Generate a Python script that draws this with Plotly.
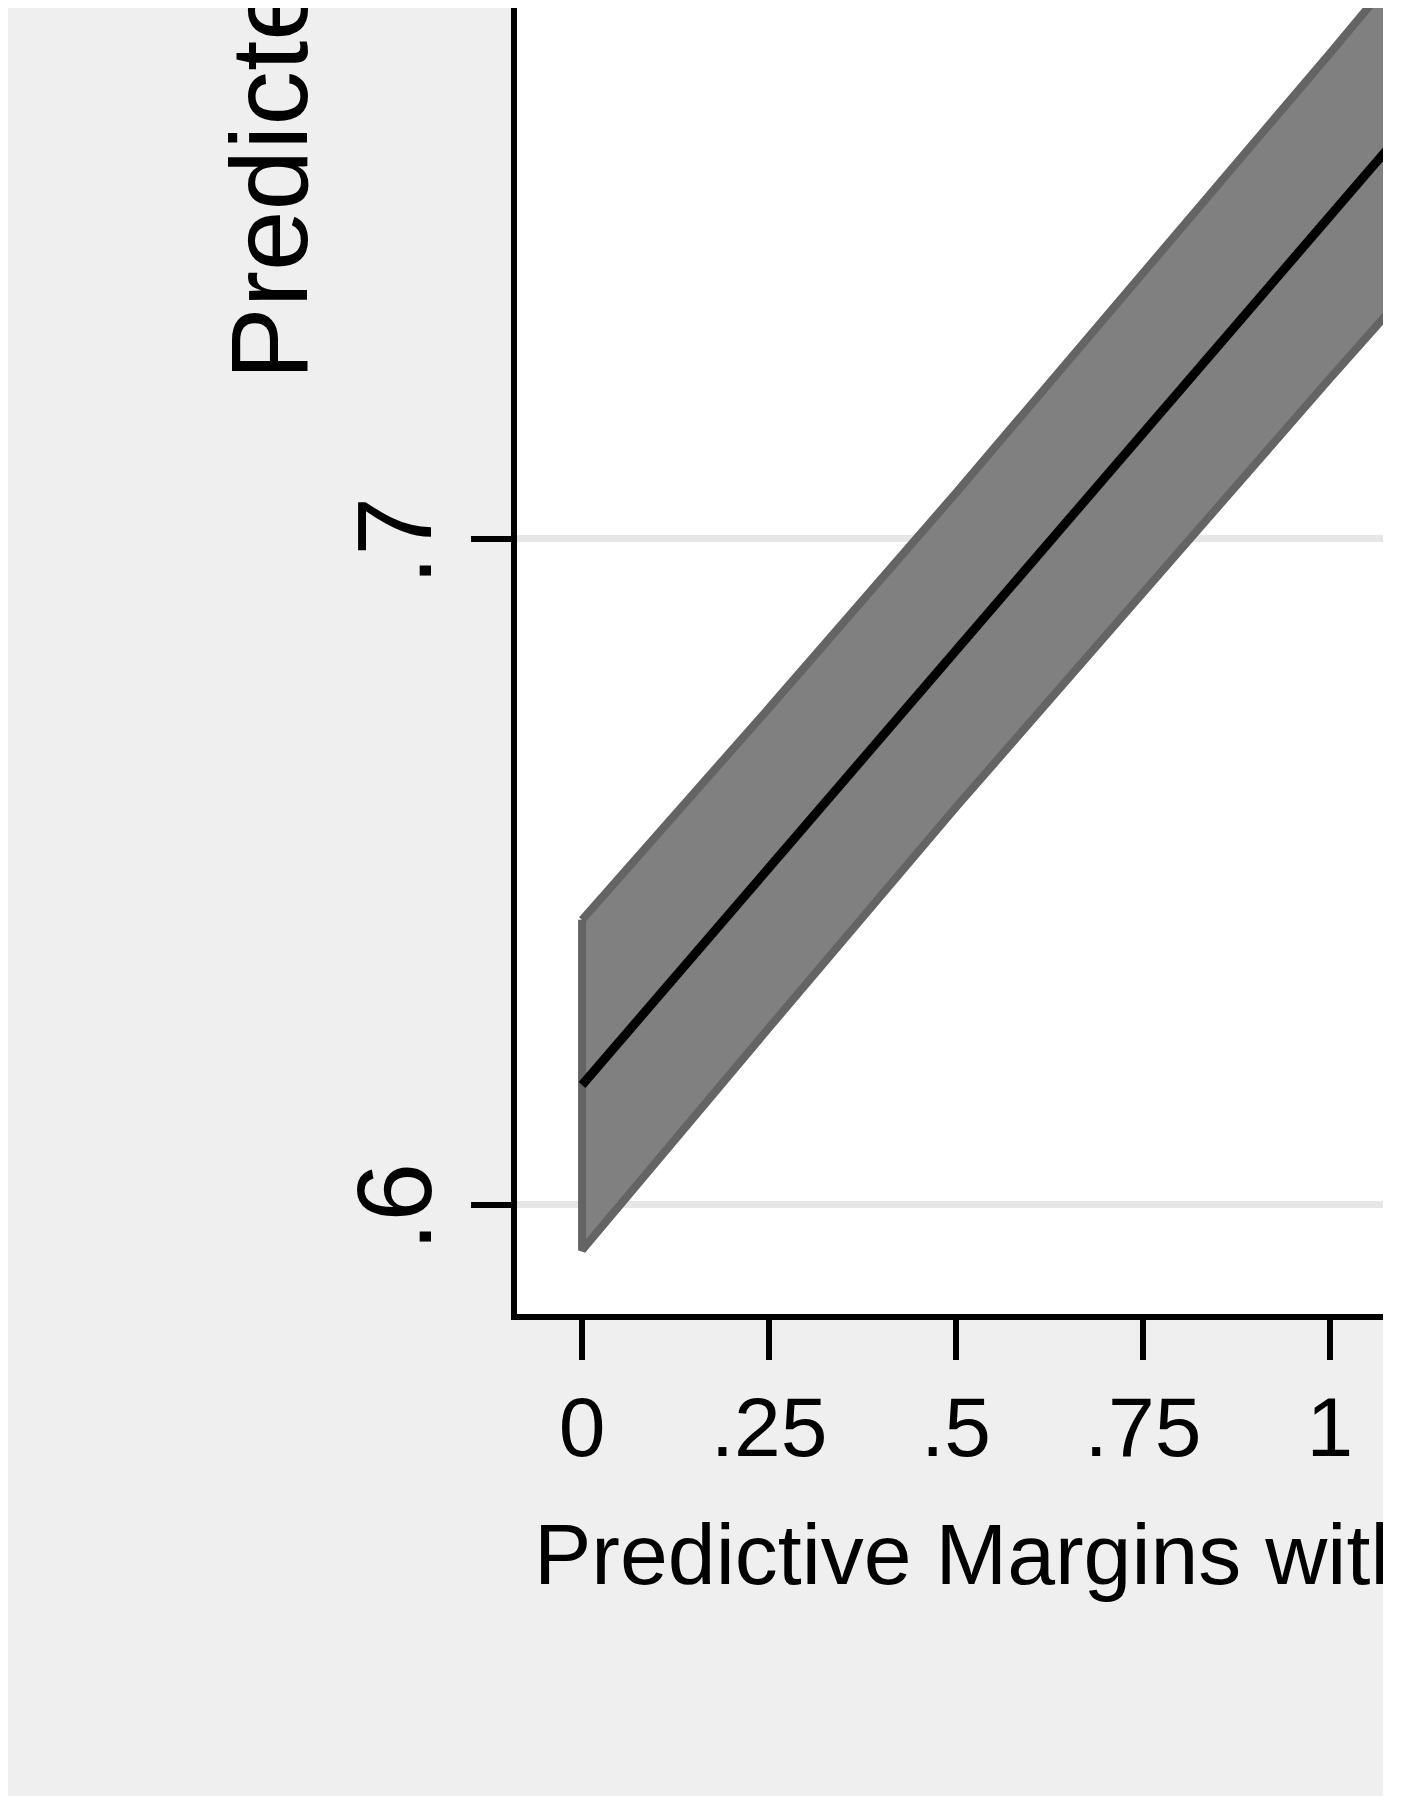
import plotly.graph_objects as go

# ---- data ----
x_vals = [0, 0.25, 0.5, 0.75, 1.0, 1.25]
margin_pred = [0.618, 0.6506, 0.6833, 0.7159, 0.7485, 0.7811]
ci_lower = [0.5932, 0.6266, 0.6597, 0.6921, 0.7241, 0.7557]
ci_upper = [0.6428, 0.6746, 0.7069, 0.7397, 0.7729, 0.8065]

x_tickvals = [0, 0.25, 0.5, 0.75, 1]
x_ticktext = ["0", ".25", ".5", ".75", "1"]
y_tickvals = [0.6, 0.7, 0.8]
y_ticktext = [".6", ".7", ".8"]

y_title = "Predicted Probability"
x_title = "Predictive Margins with 95% CIs"

# ---- layout geometry (figure pixels) ----
W, H = 1375, 1800
ML, MR, MT, MB = 509, 0, 0, 494
PW, PH = W - ML - MR, H - MT - MB

def px_to_paper(fx, fy):
    return (fx - ML) / PW, (PH - (fy - MT)) / PH

FONT = "Liberation Sans, Arial, sans-serif"

band_x = x_vals + x_vals[::-1] + [x_vals[0]]
band_y = ci_upper + ci_lower[::-1] + [ci_upper[0]]

fig = go.Figure()
fig.add_trace(go.Scatter(
    x=band_x, y=band_y, mode="lines", fill="toself",
    fillcolor="#808080", line=dict(color="#646464", width=8),
    hoverinfo="skip", showlegend=False))
fig.add_trace(go.Scatter(
    x=x_vals, y=margin_pred, mode="lines",
    line=dict(color="black", width=9), showlegend=False))

ytx, yty = px_to_paper(261, 374)
xtx, xty = px_to_paper(524, 1546)

fig.update_layout(
    width=W, height=H,
    margin=dict(l=ML, r=MR, t=MT, b=MB, pad=0),
    paper_bgcolor="#efefef", plot_bgcolor="white",
    font=dict(family=FONT, color="black"),
    showlegend=False,
    xaxis=dict(
        range=[-0.0870, 1.0709], tickvals=x_tickvals, ticktext=x_ticktext,
        showgrid=False, zeroline=False, showline=True, linecolor="black", linewidth=6,
        ticks="outside", ticklen=40, tickwidth=6, tickcolor="black",
        tickfont=dict(size=84, family=FONT), ticklabelstandoff=-5),
    yaxis=dict(
        range=[0.58361, 0.7797], tickvals=y_tickvals, ticktext=y_ticktext,
        showgrid=True, gridcolor="#e6e6e6", gridwidth=7, zeroline=False,
        showline=True, linecolor="black", linewidth=6,
        ticks="outside", ticklen=40, tickwidth=6, tickcolor="black",
        tickangle=-90, tickfont=dict(size=106, family=FONT),
        ticklabelstandoff=-2, ticklabelshift=18),
    annotations=[
        dict(text=y_title, xref="paper", yref="paper", x=ytx, y=yty,
             xanchor="center", yanchor="bottom", textangle=-90, showarrow=False,
             font=dict(size=109, family=FONT, color="black")),
        dict(text=x_title, xref="paper", yref="paper", x=xtx, y=xty,
             xanchor="left", yanchor="middle", showarrow=False,
             font=dict(size=86, family=FONT, color="black")),
    ],
)

fig.write_html("out.html")
